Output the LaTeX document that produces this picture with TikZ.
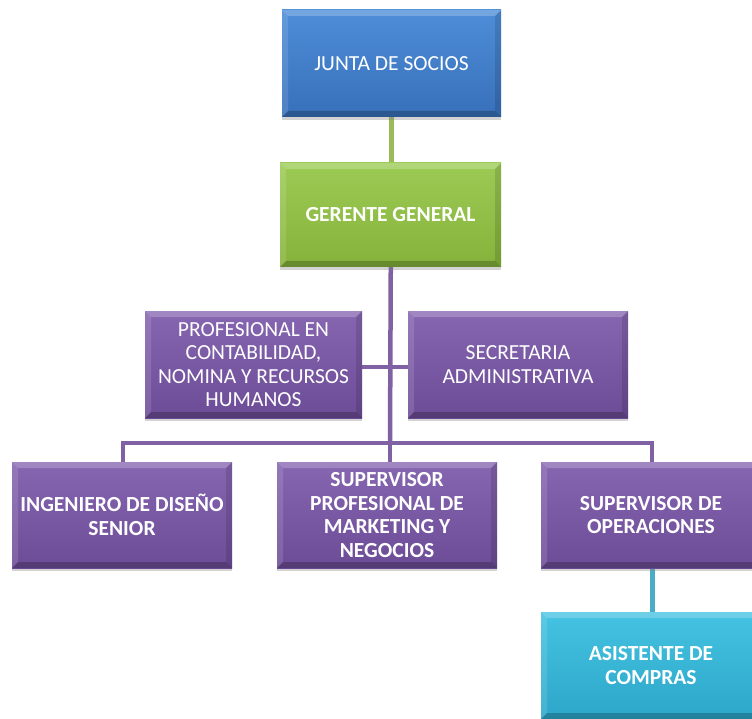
\documentclass[tikz,border=0pt]{standalone}
\usepackage{fontspec}
\setmainfont{Carlito}
\usetikzlibrary{shadows}
\definecolor{bluetop}{HTML}{4E8DD8}
\definecolor{bluebot}{HTML}{3870BA}
\definecolor{greentop}{HTML}{9CCB55}
\definecolor{greenbot}{HTML}{85B23B}
\definecolor{purptop}{HTML}{8666B0}
\definecolor{purpbot}{HTML}{6C4C96}
\definecolor{cyantop}{HTML}{45C3E2}
\definecolor{cyanbot}{HTML}{2CA6C9}
\definecolor{greenline}{HTML}{9BBB59}
\definecolor{purpline}{HTML}{7F61A4}
\definecolor{cyanline}{HTML}{4BACC6}
\newcommand{\boxfont}{\fontsize{21.5}{23.5}\selectfont}
\tikzset{
  bevel/.style={path picture={
    \fill[white,opacity=0.22] (path picture bounding box.north west) -- (path picture bounding box.north east)
      -- ([xshift=-6pt,yshift=-6pt]path picture bounding box.north east) -- ([xshift=6pt,yshift=-6pt]path picture bounding box.north west) -- cycle;
    \fill[white,opacity=0.12] (path picture bounding box.north west) -- ([xshift=6pt,yshift=-6pt]path picture bounding box.north west)
      -- ([xshift=6pt,yshift=6pt]path picture bounding box.south west) -- (path picture bounding box.south west) -- cycle;
    \fill[black,opacity=0.22] (path picture bounding box.south west) -- (path picture bounding box.south east)
      -- ([xshift=-6pt,yshift=6pt]path picture bounding box.south east) -- ([xshift=6pt,yshift=6pt]path picture bounding box.south west) -- cycle;
    \fill[black,opacity=0.12] (path picture bounding box.north east) -- ([xshift=-6pt,yshift=-6pt]path picture bounding box.north east)
      -- ([xshift=-6pt,yshift=6pt]path picture bounding box.south east) -- (path picture bounding box.south east) -- cycle;
  }},
  orgbox/.style={rectangle, minimum width=220pt, minimum height=106pt, align=center,
    text=white, font=\boxfont, inner sep=4pt, bevel,
    drop shadow={shadow xshift=0pt, shadow yshift=-3pt, opacity=0.35}},
  bluebox/.style={orgbox, top color=bluetop, bottom color=bluebot},
  greenbox/.style={orgbox, top color=greentop, bottom color=greenbot, font=\boxfont\bfseries},
  purpbox/.style={orgbox, top color=purptop, bottom color=purpbot},
  purpboldbox/.style={purpbox, font=\boxfont\bfseries},
  cyanbox/.style={orgbox, top color=cyantop, bottom color=cyanbot, font=\boxfont\bfseries},
  gline/.style={draw=greenline, line width=5pt},
  pline/.style={draw=purpline, line width=4.5pt},
  cline/.style={draw=cyanline, line width=5pt}
}
\begin{document}
\begin{tikzpicture}[x=1pt,y=-1pt]
\useasboundingbox (0,0) rectangle (752,719);
\clip (0,0) rectangle (752,719);
% connectors first (behind boxes)
\coordinate (bus) at (390,443);
\coordinate (tj) at (391,63);
\coordinate (tg) at (391,215);
\draw[gline] (tj) -- (tg);
\draw[pline] (tg) -- (bus);
\coordinate (tp) at (253,367);
\coordinate (ts) at (518,367);
\draw[pline] (tp) -- (ts);
\coordinate (ti) at (123,515);
\coordinate (tm) at (390,515);
\coordinate (to) at (652,515);
\coordinate (ta) at (652,665);
\draw[pline] (ti) |- (bus) -| (to);
\draw[pline] (tm) -- (bus);
\draw[cline] (to) -- (ta);
% boxes
\node[bluebox, minimum width=219pt, minimum height=107pt] (junta) at (391.5,63.5) {JUNTA DE SOCIOS};
\node[greenbox, minimum width=221pt, minimum height=104pt] (gerente) at (390.5,215) {GERENTE GENERAL};
\node[purpbox, minimum width=217pt, minimum height=107pt] (prof) at (253.5,364.5) {PROFESIONAL EN\\CONTABILIDAD,\\NOMINA Y RECURSOS\\HUMANOS};
\node[purpbox, minimum width=220pt, minimum height=107pt] (secr) at (518,364.5) {SECRETARIA\\ADMINISTRATIVA};
\node[purpboldbox] (ing) at (122,515) {INGENIERO DE DISEÑO\\SENIOR};
\node[purpboldbox] (supm) at (387,515) {SUPERVISOR\\PROFESIONAL DE\\MARKETING Y\\NEGOCIOS};
\node[purpboldbox] (supo) at (651,515) {SUPERVISOR DE\\OPERACIONES};
\node[cyanbox, minimum height=107pt] (asis) at (651,665.5) {ASISTENTE DE\\COMPRAS};
\end{tikzpicture}
\end{document}
